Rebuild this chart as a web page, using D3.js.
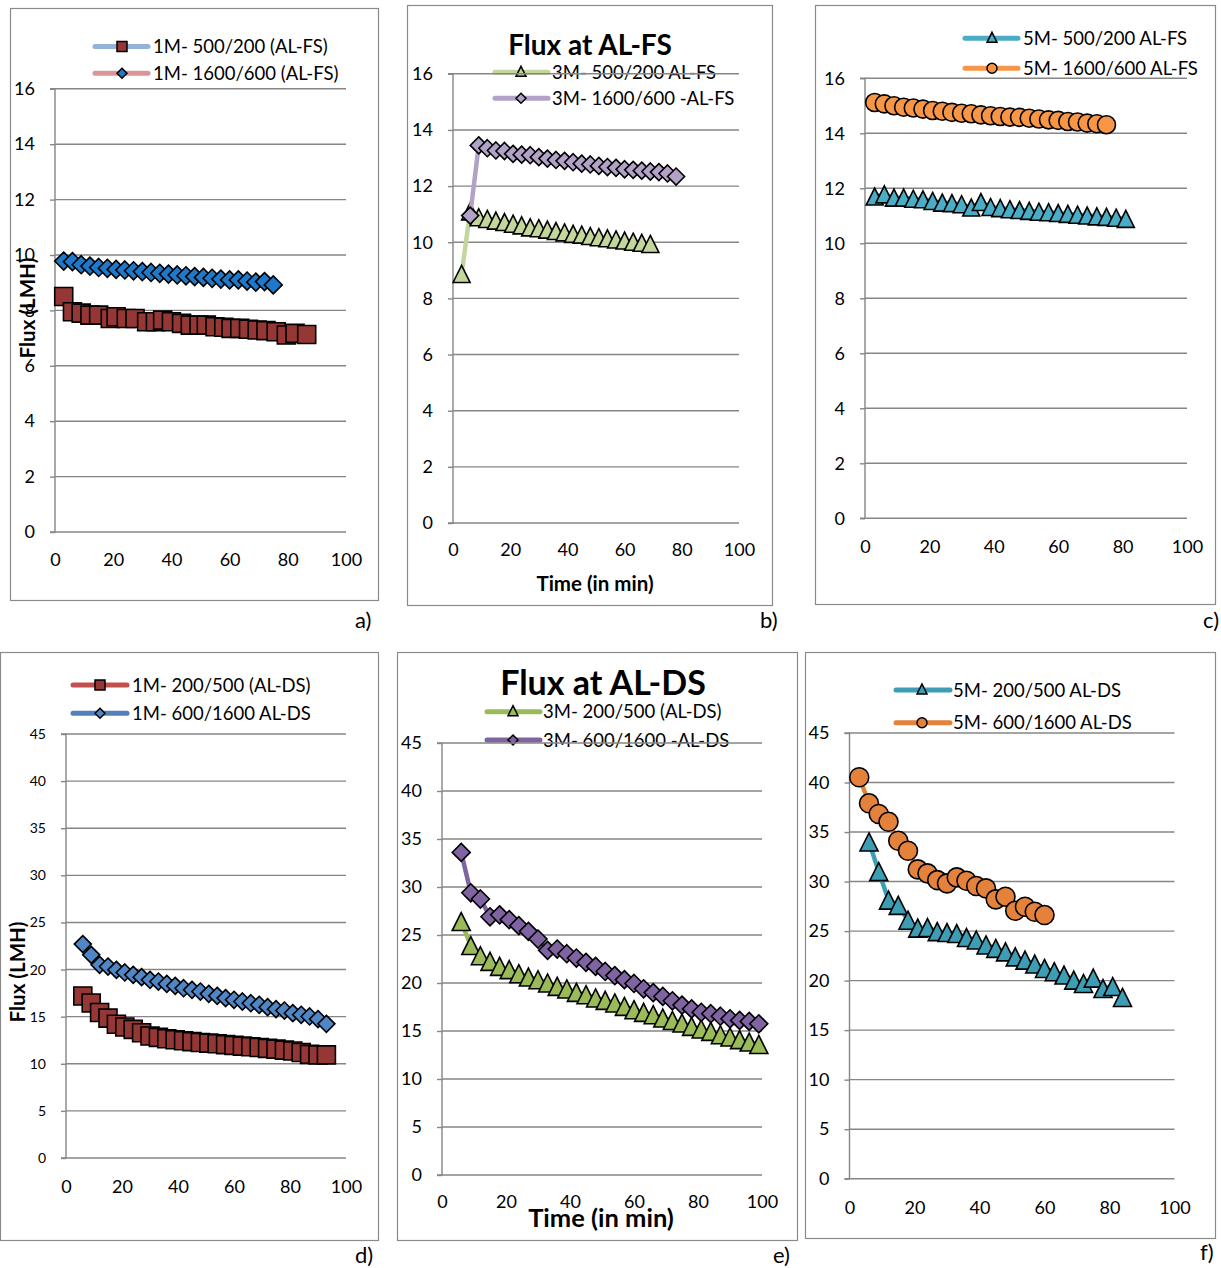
<!DOCTYPE html>
<html>
<head>
<meta charset="utf-8">
<script src="https://cdn.jsdelivr.net/npm/d3@7"></script>
<style>
  body { margin: 0; background: #fff; }
  svg { display: block; }
</style>
</head>
<body>
<svg id="fig" width="1221" height="1268"></svg>
<script>
// ---------- tick labels ----------
const xTicks = [0, 20, 40, 60, 80, 100];
const yTicksFS = [0, 2, 4, 6, 8, 10, 12, 14, 16];
const yTicksDS = [0, 5, 10, 15, 20, 25, 30, 35, 40, 45];

// ---------- a) 1M, AL-FS ----------
const namesA = ["1M- 500/200 (AL-FS)", "1M- 1600/600 (AL-FS)"];
const tA1 = [3, 6, 9, 12, 15, 19, 21, 24.5, 27.5, 31.5, 34.5, 37, 40, 43.5, 46.5, 49.5, 52, 55, 58, 60.5, 63.5, 66.5, 69.5, 72.5, 76, 79.5, 82.5, 86.5];
const fA1 = [8.50, 7.95, 7.90, 7.83, 7.83, 7.71, 7.77, 7.71, 7.71, 7.59, 7.59, 7.65, 7.59, 7.53, 7.47, 7.47, 7.47, 7.41, 7.39, 7.35, 7.35, 7.32, 7.29, 7.27, 7.23, 7.11, 7.17, 7.13];
const tA2 = [3, 6, 9, 12, 15, 18, 21, 24, 27, 30, 33, 36, 39, 42, 45, 48, 51, 54, 57, 60, 63, 66, 69, 72, 75];
const fA2 = [9.78, 9.76, 9.65, 9.60, 9.55, 9.52, 9.48, 9.46, 9.43, 9.40, 9.37, 9.34, 9.31, 9.28, 9.25, 9.22, 9.19, 9.16, 9.13, 9.10, 9.10, 9.06, 9.02, 9.04, 8.92];

// ---------- b) 3M, AL-FS ----------
const namesB = ["3M- 500/200 AL-FS", "3M- 1600/600 -AL-FS"];
const tB1 = [3, 6, 9, 12, 15, 18, 21, 24, 27, 30, 33, 36, 39, 42, 45, 48, 51, 54, 57, 60, 63, 66, 69];
const fB1 = [8.87, 11.10, 10.89, 10.83, 10.77, 10.72, 10.66, 10.60, 10.53, 10.50, 10.45, 10.40, 10.35, 10.30, 10.27, 10.22, 10.18, 10.14, 10.10, 10.06, 10.02, 9.98, 9.94];
const tB2 = [6, 9, 12, 15, 18, 21, 24, 27, 30, 33, 36, 39, 42, 45, 48, 51, 54, 57, 60, 63, 66, 69, 72, 75, 78];
const fB2 = [10.95, 13.45, 13.35, 13.27, 13.25, 13.15, 13.12, 13.10, 13.03, 12.98, 12.93, 12.90, 12.85, 12.80, 12.77, 12.72, 12.68, 12.65, 12.60, 12.58, 12.55, 12.52, 12.50, 12.45, 12.34];

// ---------- c) 5M, AL-FS ----------
const namesC = ["5M- 500/200 AL-FS", "5M- 1600/600 AL-FS"];
const tC1 = [3, 6, 9, 12, 15, 18, 21, 24, 27, 30, 33, 36, 39, 42, 45, 48, 51, 54, 57, 60, 63, 66, 69, 72, 75, 78, 81];
const fC1 = [11.70, 11.78, 11.66, 11.66, 11.62, 11.60, 11.54, 11.48, 11.46, 11.42, 11.30, 11.50, 11.32, 11.28, 11.24, 11.21, 11.18, 11.15, 11.13, 11.10, 11.07, 11.04, 11.01, 10.98, 10.96, 10.93, 10.89];
const tC2 = [3, 6, 9, 12, 15, 18, 21, 24, 27, 30, 33, 36, 39, 42, 45, 48, 51, 54, 57, 60, 63, 66, 69, 72, 75];
const fC2 = [15.12, 15.07, 15.00, 14.95, 14.92, 14.88, 14.83, 14.80, 14.76, 14.73, 14.71, 14.67, 14.64, 14.61, 14.59, 14.58, 14.55, 14.52, 14.49, 14.47, 14.43, 14.41, 14.37, 14.35, 14.31];

// ---------- d) 1M, AL-DS ----------
const namesD = ["1M- 200/500 (AL-DS)", "1M- 600/1600 AL-DS"];
const tD1 = [6, 9, 12, 15, 18, 21, 24, 27, 30, 33, 36, 39, 42, 45, 48, 51, 54, 57, 60, 63, 66, 69, 72, 75, 78, 81, 84, 87, 90, 93];
const fD1 = [17.20, 16.45, 15.45, 14.85, 14.20, 13.90, 13.65, 13.30, 12.95, 12.80, 12.65, 12.55, 12.45, 12.35, 12.26, 12.19, 12.12, 12.03, 11.95, 11.87, 11.80, 11.72, 11.63, 11.55, 11.45, 11.35, 11.20, 11.00, 10.95, 10.95];
const tD2 = [6, 9, 12, 15, 18, 21, 24, 27, 30, 33, 36, 39, 42, 45, 48, 51, 54, 57, 60, 63, 66, 69, 72, 75, 78, 81, 84, 87, 90, 93];
const fD2 = [22.70, 21.56, 20.50, 20.32, 19.97, 19.69, 19.44, 19.19, 18.91, 18.73, 18.48, 18.27, 18.02, 17.85, 17.67, 17.42, 17.21, 16.97, 16.79, 16.61, 16.43, 16.26, 16.01, 15.80, 15.65, 15.37, 15.20, 15.02, 14.74, 14.24];

// ---------- e) 3M, AL-DS ----------
const namesE = ["3M- 200/500 (AL-DS)", "3M- 600/1600 -AL-DS"];
const tE1 = [6, 9, 12, 15, 18, 21, 24, 27, 30, 33, 36, 39, 42, 45, 48, 51, 54, 57, 60, 63, 66, 69, 72, 75, 78, 81, 84, 87, 90, 93, 96, 99];
const fE1 = [26.40, 23.90, 22.84, 22.25, 21.73, 21.39, 20.97, 20.62, 20.34, 20.00, 19.65, 19.38, 19.02, 18.78, 18.44, 18.19, 17.92, 17.56, 17.22, 16.94, 16.70, 16.35, 16.10, 15.83, 15.48, 15.21, 14.96, 14.61, 14.38, 14.10, 13.85, 13.60];
const tE2 = [6, 9, 12, 15, 18, 21, 24, 27, 30, 33, 36, 39, 42, 45, 48, 51, 54, 57, 60, 63, 66, 69, 72, 75, 78, 81, 84, 87, 90, 93, 96, 99];
const fE2 = [33.60, 29.40, 28.75, 26.90, 27.10, 26.60, 25.97, 25.38, 24.58, 23.40, 23.54, 23.05, 22.60, 22.15, 21.73, 21.20, 20.77, 20.35, 19.95, 19.40, 19.00, 18.60, 18.15, 17.70, 17.30, 16.95, 16.80, 16.54, 16.27, 16.10, 16.00, 15.75];

// ---------- f) 5M, AL-DS ----------
const namesF = ["5M- 200/500 AL-DS", "5M- 600/1600 AL-DS"];
const tF1 = [6, 9, 12, 15, 18, 21, 24, 27, 30, 33, 36, 39, 42, 45, 48, 51, 54, 57, 60, 63, 66, 69, 72, 75, 78, 81, 84];
const fF1 = [34.00, 31.00, 28.13, 27.60, 26.10, 25.30, 25.35, 24.95, 24.85, 24.75, 24.35, 24.10, 23.60, 23.25, 22.90, 22.40, 22.07, 21.67, 21.23, 20.90, 20.56, 20.05, 19.71, 20.25, 19.20, 19.40, 18.30];
const tF2 = [3, 6, 9, 12, 15, 18, 21, 24, 27, 30, 33, 36, 39, 42, 45, 48, 51, 54, 57, 60];
const fF2 = [40.53, 37.90, 36.82, 36.04, 34.12, 33.11, 31.23, 30.83, 30.15, 29.82, 30.42, 30.08, 29.55, 29.31, 28.20, 28.47, 27.05, 27.46, 26.95, 26.62];

// ---------- drawing ----------
const FONT = "Lato, 'Open Sans', 'Liberation Sans', sans-serif";
const GRID = "#868686";
const svg = d3.select("#fig");

// marker outline, centred on (0,0); s = full width
function markerPath(shape, s) {
  const h = s / 2;
  if (shape === "square") return `M${-h},${-h}H${h}V${h}H${-h}Z`;
  if (shape === "diamond") return `M0,${-h}L${h},0L0,${h}L${-h},0Z`;
  if (shape === "triangle") return `M0,${-h}L${h},${h}L${-h},${h}Z`;
  return d3.symbol(d3.symbolCircle, Math.PI * h * h)();
}

const panels = [
  { frame: [10, 8, 378, 600], x0: 55, x1: 346, yb: 532, yt: 88.8, yMax: 16, yTicks: yTicksFS,
    yFont: 18, xLabDy: 28, tag: ["a)", 355, 620], yTitle: [28, 308],
    legend: { rows: [46.5, 73.3], l0: 95, l1: 148, m: 122, tx: 153 }, names: namesA,
    series: [
      { t: tA1, f: fA1, shape: "square", size: 18, fill: "#953735", line: "#95B3D7" },
      { t: tA2, f: fA2, shape: "diamond", size: 18, fill: "#1F78C8", line: "#D99694" } ] },
  { frame: [407, 5, 772, 605], x0: 453, x1: 739, yb: 523, yt: 73.8, yMax: 16, yTicks: yTicksFS,
    yFont: 18, xLabDy: 27, tag: ["b)", 760, 620],
    title: ["Flux at AL-FS", 590, 45, 28], xTitle: ["Time (in min)", 595, 584, 20.5],
    legend: { rows: [72.3, 98.3], l0: 495, l1: 548, m: 521, tx: 552 }, names: namesB,
    series: [
      { t: tB1, f: fB1, shape: "triangle", size: 17, fill: "#C3D69B", line: "#C3D69B" },
      { t: tB2, f: fB2, shape: "diamond", size: 17, fill: "#B3A2C7", line: "#B3A2C7" } ] },
  { frame: [815, 5, 1215, 604], x0: 865, x1: 1187, yb: 518.3, yt: 78.3, yMax: 16, yTicks: yTicksFS,
    yFont: 18, xLabDy: 28, tag: ["c)", 1203, 620],
    legend: { rows: [38.3, 68.3], l0: 965, l1: 1018, m: 992, tx: 1023 }, names: namesC,
    series: [
      { t: tC1, f: fC1, shape: "triangle", size: 17, fill: "#4BACC6", line: "#4BACC6" },
      { t: tC2, f: fC2, shape: "circle", size: 18, fill: "#F79646", line: "#F79646" } ] },
  { frame: [0, 652, 378, 1240], x0: 66, x1: 346, yb: 1158, yt: 734, yMax: 45, yTicks: yTicksDS,
    yFont: 14, xLabDy: 29, tag: ["d)", 355, 1255], yTitle: [18, 972],
    legend: { rows: [685, 713.3], l0: 73, l1: 127, m: 100, tx: 132 }, names: namesD,
    series: [
      { t: tD1, f: fD1, shape: "square", size: 18, fill: "#953735", line: "#C0504D" },
      { t: tD2, f: fD2, shape: "diamond", size: 17, fill: "#4F87C6", line: "#4F81BD" } ] },
  { frame: [397, 652, 797, 1240], x0: 442, x1: 762, yb: 1175, yt: 743, yMax: 45, yTicks: yTicksDS,
    yFont: 18, xLabDy: 27, tag: ["e)", 773, 1255],
    title: ["Flux at AL-DS", 603, 683, 34], xTitle: ["Time (in min)", 601, 1218, 25.5],
    legend: { rows: [711.7, 740], l0: 487, l1: 540, m: 513, tx: 543 }, names: namesE,
    series: [
      { t: tE1, f: fE1, shape: "triangle", size: 18, fill: "#9BBB59", line: "#9BBB59" },
      { t: tE2, f: fE2, shape: "diamond", size: 18, fill: "#8064A2", line: "#8064A2" } ] },
  { frame: [805, 652, 1215, 1238], x0: 849.5, x1: 1174.5, yb: 1178.7, yt: 733, yMax: 45, yTicks: yTicksDS,
    yFont: 18, xLabDy: 29, tag: ["f)", 1200, 1252],
    legend: { rows: [690, 722.7], l0: 896, l1: 950, m: 922, tx: 953 }, names: namesF,
    series: [
      { t: tF1, f: fF1, shape: "triangle", size: 18, fill: "#3C9DB5", line: "#3C9DB5" },
      { t: tF2, f: fF2, shape: "circle", size: 19, fill: "#E4823C", line: "#E4823C" } ] }
];

panels.forEach(p => {
  const g = svg.append("g").attr("font-family", FONT);
  const [fx0, fy0, fx1, fy1] = p.frame;

  // panel frame
  g.append("rect")
    .attr("x", fx0 + 0.5).attr("y", fy0 + 0.5)
    .attr("width", fx1 - fx0).attr("height", fy1 - fy0)
    .attr("fill", "#fff").attr("stroke", "#8a8a8a").attr("stroke-width", 1.2);

  const x = d3.scaleLinear().domain([0, 100]).range([p.x0, p.x1]);
  const y = d3.scaleLinear().domain([0, p.yMax]).range([p.yb, p.yt]);

  // legend (drawn under the grid, which shows through it)
  const leg = g.append("g");
  p.series.forEach((s, i) => {
    const ly = p.legend.rows[i];
    leg.append("line")
      .attr("x1", p.legend.l0).attr("x2", p.legend.l1).attr("y1", ly).attr("y2", ly)
      .attr("stroke", s.line).attr("stroke-width", 5).attr("stroke-linecap", "round");
    leg.append("path")
      .attr("d", markerPath(s.shape, 10))
      .attr("transform", `translate(${p.legend.m},${ly + (s.shape === "triangle" ? -1 : 0)})`)
      .attr("fill", s.fill).attr("stroke", "#000").attr("stroke-width", 1.5);
    leg.append("text")
      .attr("x", p.legend.tx).attr("y", ly).attr("dy", "0.36em")
      .attr("font-size", 18.5).attr("fill", "#000")
      .text(p.names[i]);
  });

  // horizontal gridlines
  g.append("g").selectAll("line").data(p.yTicks).join("line")
    .attr("x1", p.x0).attr("x2", p.x1)
    .attr("y1", d => y(d)).attr("y2", d => y(d))
    .attr("stroke", GRID).attr("stroke-width", 1.4);

  // y axis with outside tick marks
  const yAxis = d3.axisLeft(y).tickValues(p.yTicks).tickSize(5).tickPadding(15).tickFormat(d3.format("d"));
  const ya = g.append("g").attr("transform", `translate(${p.x0},0)`).call(yAxis);
  ya.select(".domain").attr("stroke", GRID).attr("stroke-width", 1.4).attr("d", `M-5,${p.yt}H0V${p.yb}H-5`);
  ya.selectAll(".tick line").attr("stroke", GRID).attr("stroke-width", 1.4);
  ya.selectAll(".tick text").attr("font-size", p.yFont).attr("fill", "#000").attr("font-family", FONT);

  // x axis labels
  const xAxis = d3.axisBottom(x).tickValues(xTicks).tickSize(0).tickPadding(0).tickFormat(d3.format("d"));
  const xa = g.append("g").attr("transform", `translate(0,${p.yb + p.xLabDy})`).call(xAxis);
  xa.select(".domain").remove();
  xa.selectAll(".tick text").attr("font-size", 18).attr("fill", "#000")
    .attr("font-family", FONT).attr("dy", "0.36em");

  // series: connecting line then markers
  p.series.forEach(s => {
    const pts = s.t.map((t, i) => [t, s.f[i]]);
    g.append("path")
      .datum(pts)
      .attr("d", d3.line().x(d => x(d[0])).y(d => y(d[1])))
      .attr("fill", "none").attr("stroke", s.line).attr("stroke-width", 4.5)
      .attr("stroke-linejoin", "round").attr("stroke-linecap", "round");
    g.append("g").selectAll("path").data(pts).join("path")
      .attr("d", markerPath(s.shape, s.size))
      .attr("transform", d => `translate(${x(d[0])},${y(d[1])})`)
      .attr("fill", s.fill).attr("stroke", "#000").attr("stroke-width", 1.6)
      .attr("stroke-linejoin", "miter");
  });

  // titles
  if (p.title) {
    g.append("text").attr("x", p.title[1]).attr("y", p.title[2]).attr("dy", "0.36em")
      .attr("text-anchor", "middle").attr("font-weight", "bold").attr("font-size", p.title[3])
      .attr("fill", "#000").text(p.title[0]);
  }
  if (p.xTitle) {
    g.append("text").attr("x", p.xTitle[1]).attr("y", p.xTitle[2]).attr("dy", "0.36em")
      .attr("text-anchor", "middle").attr("font-weight", "bold").attr("font-size", p.xTitle[3])
      .attr("fill", "#000").text(p.xTitle[0]);
  }
  if (p.yTitle) {
    g.append("text")
      .attr("transform", `translate(${p.yTitle[0]},${p.yTitle[1]}) rotate(-90)`)
      .attr("dy", "0.36em").attr("text-anchor", "middle")
      .attr("font-weight", "bold").attr("font-size", 20.5).attr("fill", "#000")
      .text("Flux (LMH)");
  }

  // panel tag
  svg.append("text").attr("font-family", FONT)
    .attr("x", p.tag[1]).attr("y", p.tag[2]).attr("dy", "0.36em")
    .attr("font-size", 22).attr("fill", "#000").text(p.tag[0]);
});
</script>
</body>
</html>
